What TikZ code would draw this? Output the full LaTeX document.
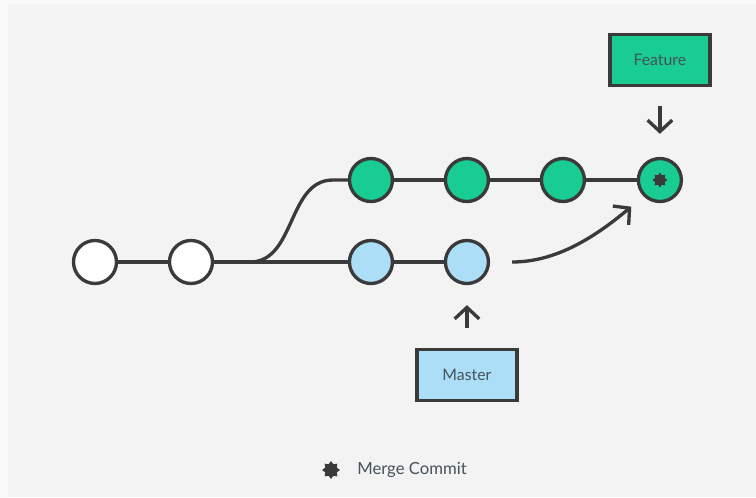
\documentclass[tikz,border=0pt]{standalone}
\usepackage{fontspec}
\setmainfont{Lato}
\usetikzlibrary{positioning,arrows.meta,shapes.geometric}

\definecolor{bgout}{HTML}{F9F9F9}
\definecolor{bgin}{HTML}{F3F3F3}
\definecolor{ink}{HTML}{3A3A3A}
\definecolor{txt}{HTML}{455259}
\definecolor{featgreen}{HTML}{19CC92}
\definecolor{mastblue}{HTML}{ADDEF8}

\begin{document}
\begin{tikzpicture}[x=0.02cm,y=0.02cm,node distance=1.92cm,on grid,
line width=1.9pt,draw=ink,
commit/.style={circle,draw=ink,line width=1.9pt,minimum size=0.86cm,inner sep=0pt},
oldc/.style={commit,fill=white},
featc/.style={commit,fill=featgreen},
mastc/.style={commit,fill=mastblue},
refbox/.style={rectangle,draw=ink,line width=1.9pt,minimum width=2cm,minimum height=1.02cm,
    text=txt,font=\fontsize{9}{11}\selectfont},
mergemark/.style={star,star points=8,star point ratio=1.45,fill=ink,draw=none,inner sep=0pt},
tip/.style={-{Straight Barb[length=6.5pt,width=14pt,line width=1.9pt]}}]

% background
\useasboundingbox (0,0) rectangle (756,497);
\fill[bgout] (0,0) rectangle (756,497);
\fill[bgin] (8,0) rectangle (756,493);

% commits
\node[oldc](c1) at (95,235) {};
\node[oldc](c2) [right=of c1] {};
\node[mastc](b1) [right=3.6cm of c2] {};
\node[mastc](b2) [right=of b1] {};
\node[featc](g1) [above=1.64cm of b1] {};
\node[featc](g2) [right=of g1] {};
\node[featc](g3) [right=of g2] {};
\node[featc](m) [right=1.94cm of g3] {};
\node[mergemark,minimum size=0.3cm] at (m) {};

% branch refs
\node[refbox,fill=featgreen](feat) [above=2.4cm of m] {Feature};
\node[refbox,fill=mastblue](mast) [below=2.26cm of b2] {Master};

\coordinate (fork) at (250,235);
\coordinate (bend) at (333,317);

\draw (c1) -- (c2) -- (b1) -- (b2);
\draw (fork) to[out=0,in=180] (bend) -- (g1);
\draw (g1) -- (g2) -- (g3) -- (m);

\path[tip]
   (feat) edge [shorten <=0.38cm,shorten >=0.46cm] (m)
   (mast) edge [shorten <=0.4cm,shorten >=0.4cm] (b2)
   (b2.east) edge [out=0,in=220,shorten <=0.44cm,shorten >=0.32cm] (m.south west);

% legend
\node[mergemark,minimum size=0.36cm](lstar) at (331,27) {};
\node[text=txt,font=\fontsize{9.5}{11}\selectfont](ltext) [right=1.62cm of lstar] {Merge Commit};
\end{tikzpicture}
\end{document}
